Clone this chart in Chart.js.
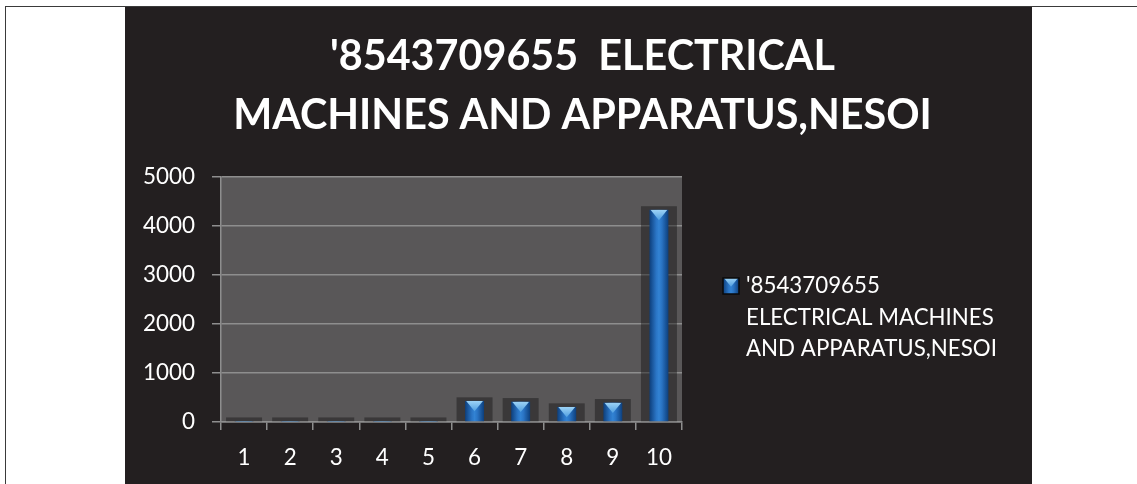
<!DOCTYPE html>
<html>
<head>
<meta charset="utf-8">
<script src="https://cdn.jsdelivr.net/npm/chart.js@4.4.1/dist/chart.umd.min.js"></script>
<style>
  html, body { margin: 0; padding: 0; background: #ffffff; width: 1137px; height: 484px; overflow: hidden; }
  #frame { position: absolute; left: 5px; top: 6px; width: 1132px; height: 478px; border-left: 1px solid #3a3a3a; border-top: 1px solid #3a3a3a; box-sizing: border-box; }
  #wrap { position: absolute; left: 125px; top: 7px; width: 907px; height: 477px; background: #231f20; }
  canvas { display: block; }
</style>
</head>
<body>
<div id="frame"></div>
<div id="wrap"><canvas id="c" width="907" height="477"></canvas></div>
<script>
// ---- data ----
const categories = ['1', '2', '3', '4', '5', '6', '7', '8', '9', '10'];
const seriesValues = [20, 20, 20, 20, 20, 430, 415, 307, 395, 4330];
const yTickValues = [0, 1000, 2000, 3000, 4000, 5000];
const titleLines = ["'8543709655  ELECTRICAL", "MACHINES AND APPARATUS,NESOI"];
const seriesName = "'8543709655  ELECTRICAL MACHINES AND APPARATUS,NESOI";
const legendLines = ["'8543709655", "ELECTRICAL MACHINES", "AND APPARATUS,NESOI"];

const FONT = 'Lato, "Open Sans", sans-serif';

// fit font sizes to reference widths
const mctx = document.createElement('canvas').getContext('2d');
function fitSize(text, weight, target) {
  mctx.font = weight + ' 100px ' + FONT;
  const w = mctx.measureText(text).width;
  return 100 * target / w;
}
const titleSize = fitSize(titleLines[1], 'bold', 699);
const legendSize = fitSize(legendLines[1], 'normal', 248);
const tickSize = fitSize('5000', 'normal', 52);

const W = 907, H = 477;
const plotLeft = 96, plotRight = 557, plotTop = 170, plotBottom = 415;

function drawPyramidBar(ctx, x0, x1, top, base, withBorder) {
  const w = x1 - x0;
  const h = base - top;
  if (h <= 0) return;
  ctx.save();
  const g = ctx.createLinearGradient(x0, 0, x1, 0);
  g.addColorStop(0, '#0d3f7c');
  g.addColorStop(0.35, '#2a74c4');
  g.addColorStop(0.5, '#3283d4');
  g.addColorStop(0.65, '#2a74c4');
  g.addColorStop(1, '#0d3f7c');
  ctx.fillStyle = g;
  ctx.fillRect(x0, top, w, h);
  // pyramid top
  const th = Math.min(w * 0.55, h);
  ctx.beginPath();
  ctx.rect(x0, top, w, h);
  ctx.clip();
  const tg = ctx.createLinearGradient(0, top, 0, top + th);
  tg.addColorStop(0, '#9dd3f6');
  tg.addColorStop(1, '#4f9ee0');
  ctx.fillStyle = tg;
  ctx.beginPath();
  ctx.moveTo(x0 + 1, top);
  ctx.lineTo(x1 - 1, top);
  ctx.lineTo((x0 + x1) / 2, top + w * 0.55);
  ctx.closePath();
  ctx.fill();
  ctx.restore();
  if (withBorder) {
    ctx.save();
    ctx.strokeStyle = '#0a0a0a';
    ctx.lineWidth = 1.5;
    ctx.strokeRect(x0, top, w, h);
    ctx.restore();
  }
}

const decor = {
  id: 'decor',
  beforeDraw(chart) {
    const {ctx, chartArea: a} = chart;
    ctx.save();
    ctx.fillStyle = '#595758';
    ctx.fillRect(a.left, a.top, a.right - a.left, a.bottom - a.top);
    ctx.restore();
  },
  beforeDatasetsDraw(chart) {
    const {ctx} = chart;
    const meta = chart.getDatasetMeta(0);
    const catW = (chart.chartArea.right - chart.chartArea.left) / categories.length;
    ctx.save();
    ctx.fillStyle = 'rgba(20,20,20,0.45)';
    meta.data.forEach(el => {
      const p = el.getProps(['x', 'y', 'base'], true);
      const hw = catW * 0.39;
      ctx.fillRect(p.x - hw, p.y - 3.6, hw * 2, p.base - p.y + 3.6);
    });
    ctx.restore();
  },
  afterDatasetsDraw(chart) {
    const {ctx} = chart;
    const meta = chart.getDatasetMeta(0);
    meta.data.forEach(el => {
      const p = el.getProps(['x', 'y', 'base', 'width'], true);
      drawPyramidBar(ctx, p.x - p.width / 2, p.x + p.width / 2, p.y, p.base, false);
    });
  },
  afterDraw(chart) {
    const {ctx} = chart;
    // legend marker
    drawPyramidBar(ctx, 598, 614, 271, 287, true);
    ctx.save();
    // title
    ctx.fillStyle = '#ffffff';
    ctx.textAlign = 'center';
    ctx.textBaseline = 'alphabetic';
    ctx.font = 'bold ' + titleSize.toFixed(2) + 'px ' + FONT;
    ctx.fillText(titleLines[0], 457.5, 63);
    ctx.fillText(titleLines[1], 457.5, 122);
    // legend text
    ctx.fillStyle = '#ffffff';
    ctx.textAlign = 'left';
    ctx.font = legendSize.toFixed(2) + 'px ' + FONT;
    const baselines = [286, 318, 349];
    legendLines.forEach((t, i) => ctx.fillText(t, 621, baselines[i]));
    ctx.restore();
  }
};

const gridColor = '#8e8e8e';

new Chart(document.getElementById('c'), {
  type: 'bar',
  data: {
    labels: categories,
    datasets: [{
      label: seriesName,
      data: seriesValues,
      backgroundColor: 'rgba(0,0,0,0)',
      borderWidth: 0,
      categoryPercentage: 1.0,
      barPercentage: 0.41
    }]
  },
  options: {
    responsive: false,
    animation: false,
    devicePixelRatio: 1,
    layout: { padding: { left: 0, right: W - plotRight, top: plotTop, bottom: 0 } },
    plugins: {
      legend: { display: false },
      title: { display: false },
      tooltip: { enabled: false }
    },
    scales: {
      x: {
        offset: true,
        grid: { offset: true, drawOnChartArea: false, drawTicks: true, tickLength: 8, color: gridColor, lineWidth: 1.5 },
        border: { color: gridColor, width: 1.5 },
        ticks: { color: '#ffffff', font: { family: FONT, size: tickSize }, padding: 14, maxRotation: 0 },
        afterFit(scale) { scale.height = H - plotBottom; }
      },
      y: {
        min: 0,
        max: 5000,
        afterBuildTicks(scale) { scale.ticks = yTickValues.map(v => ({ value: v })); },
        grid: { color: gridColor, lineWidth: 1.5, drawTicks: true, tickLength: 9 },
        border: { color: gridColor, width: 1.5 },
        ticks: { color: '#ffffff', font: { family: FONT, size: tickSize }, padding: 17, callback: v => String(v) },
        afterFit(scale) { scale.width = plotLeft; }
      }
    }
  },
  plugins: [decor]
});
</script>
</body>
</html>
